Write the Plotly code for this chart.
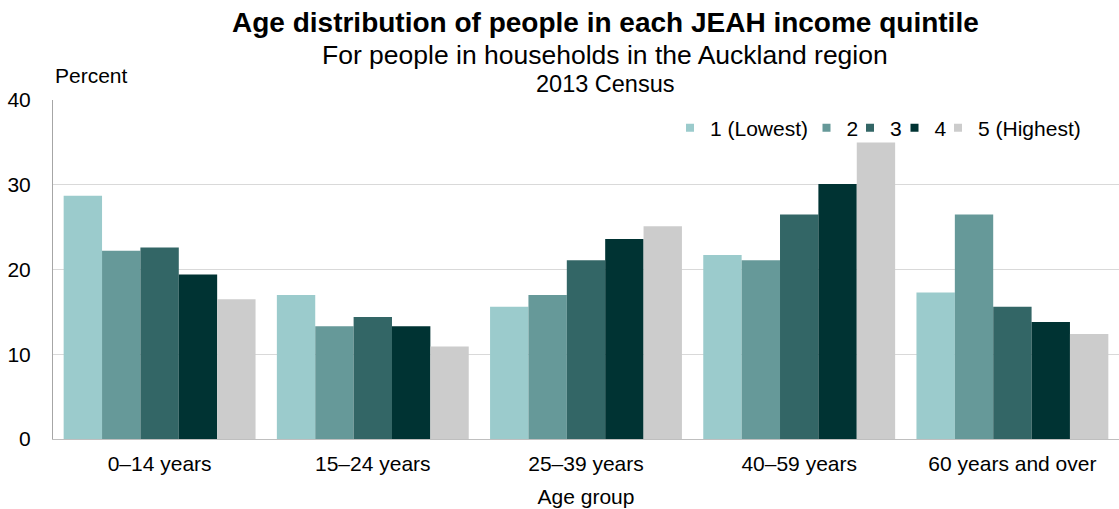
import plotly.graph_objects as go

# Age groups and income quintiles
age_groups = ["0–14 years", "15–24 years", "25–39 years", "40–59 years", "60 years and over"]
quintiles = ["1 (Lowest)", "2", "3", "4", "5 (Highest)"]

# Percent of people in each quintile, by age group
q1_lowest = [28.7, 17.0, 15.6, 21.7, 17.3]
q2 = [22.2, 13.3, 17.0, 21.1, 26.5]
q3 = [22.6, 14.4, 21.1, 26.5, 15.6]
q4 = [19.4, 13.3, 23.6, 30.1, 13.8]
q5_highest = [16.5, 10.9, 25.1, 35.0, 12.4]

series = [q1_lowest, q2, q3, q4, q5_highest]
colors = ["#9BCBCC", "#669999", "#336666", "#003333", "#CCCCCC"]

FONT = "Arial, Liberation Sans, sans-serif"
W, H = 1119, 509
M_L, M_R, M_T, M_B = 53, 0, 100, 70

# Left edge (in pixels) of each legend entry, laid out as one row
legend_left_px = [670, 806.5, 850, 894.5, 938]

fig = go.Figure()

for name, values, color in zip(quintiles, series, colors):
    fig.add_trace(go.Bar(
        x=age_groups, y=values, name=name,
        marker=dict(color=color, line=dict(width=0)),
        showlegend=False, hoverinfo="x+y+name",
    ))

# Small square legend keys, one legend box per entry so spacing stays tight
legend_layouts = {}
for i, (name, color) in enumerate(zip(quintiles, colors)):
    key = "legend" if i == 0 else f"legend{i + 1}"
    fig.add_trace(go.Scatter(
        x=[None], y=[None], mode="markers", name=name,
        marker=dict(symbol="square", size=8, color=color),
        showlegend=True, legend=key,
    ))
    legend_layouts[key] = dict(
        orientation="h",
        x=(legend_left_px[i] - M_L) / (W - M_L - M_R), y=0.917,
        xanchor="left", yanchor="middle",
        font=dict(size=21), bgcolor="rgba(0,0,0,0)", itemclick=False,
    )

fig.update_layout(
    width=W, height=H,
    margin=dict(l=M_L, r=M_R, t=M_T, b=M_B),
    paper_bgcolor="white", plot_bgcolor="white",
    font=dict(family=FONT, size=21, color="#000000"),
    barmode="group", bargap=0.1, bargroupgap=0,
    xaxis=dict(
        showline=True, linecolor="#BFBFBF", linewidth=1,
        ticks="", tickfont=dict(size=21), ticklabelstandoff=6,
        title=dict(text="Age group", font=dict(size=21), standoff=15),
        showgrid=False, fixedrange=True, automargin=False,
    ),
    yaxis=dict(
        range=[0, 40], dtick=10, tick0=0,
        showline=True, linecolor="#A6A6A6", linewidth=1,
        showgrid=True, gridcolor="#D9D9D9", gridwidth=1,
        zeroline=False, ticks="", tickfont=dict(size=21),
        ticklabelstandoff=17, fixedrange=True, automargin=False,
    ),
    annotations=[
        dict(text="<b>Age distribution of people in each JEAH income quintile</b>",
             xref="paper", yref="paper", x=0.518, y=1.23, xanchor="center", yanchor="middle",
             showarrow=False, font=dict(size=28)),
        dict(text="For people in households in the Auckland region",
             xref="paper", yref="paper", x=0.518, y=1.133, xanchor="center", yanchor="middle",
             showarrow=False, font=dict(size=26.5)),
        dict(text="2013 Census",
             xref="paper", yref="paper", x=0.518, y=1.047, xanchor="center", yanchor="middle",
             showarrow=False, font=dict(size=23.5)),
        dict(text="Percent",
             xref="paper", yref="paper", x=0.0, y=1.071, xanchor="left", yanchor="middle",
             showarrow=False, font=dict(size=21)),
    ],
    **legend_layouts,
)

fig.write_html("out.html")
